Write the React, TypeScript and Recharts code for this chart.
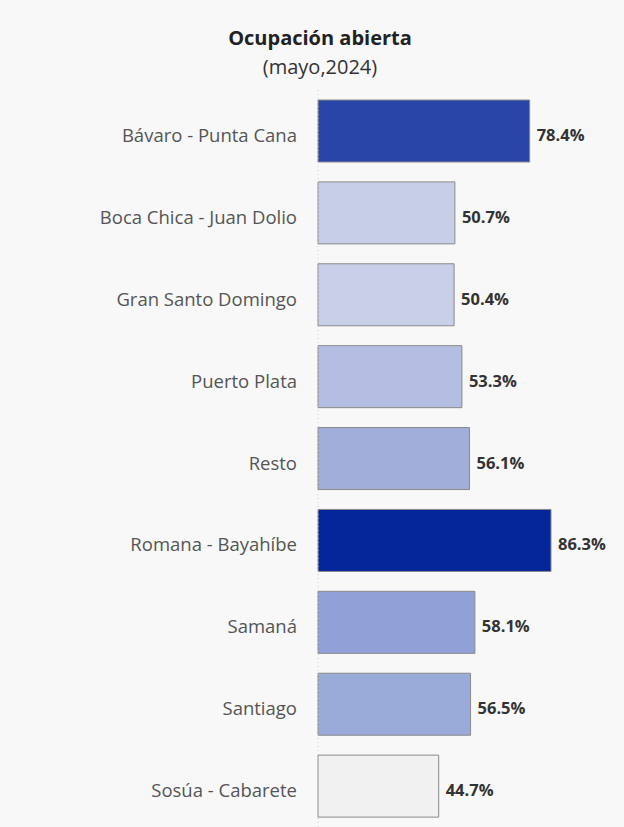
import React from "react";
import { BarChart, Bar, XAxis, YAxis, Cell, LabelList } from "recharts";

const categories = [
  "Bávaro - Punta Cana",
  "Boca Chica - Juan Dolio",
  "Gran Santo Domingo",
  "Puerto Plata",
  "Resto",
  "Romana - Bayahíbe",
  "Samaná",
  "Santiago",
  "Sosúa - Cabarete",
];
const values = [78.4, 50.7, 50.4, 53.3, 56.1, 86.3, 58.1, 56.5, 44.7];
const colors = [
  "#2945a7",
  "#c7cfe8",
  "#c9cfe8",
  "#b3bee2",
  "#a0aed9",
  "#04269a",
  "#8fa1d6",
  "#9aaad9",
  "#f1f1f1",
];
const title = "Ocupación abierta";
const subtitle = "(mayo,2024)";

const data = categories.map((c, i) => ({ name: c, value: values[i] }));

const FONT = "'Open Sans', 'Noto Sans', sans-serif";

const CatTick = (props: any) => {
  const { x, y, payload } = props;
  return (
    <text x={x} y={y} dy={11} textAnchor="end" fill="#555" fontSize={18.5} fontFamily={FONT}>
      {payload.value}
    </text>
  );
};

const ValueLabel = (props: any) => {
  const { x, y, width, height, value } = props;
  return (
    <text
      x={x + width + 7}
      y={y + height / 2}
      dy={10}
      textAnchor="start"
      fill="#333"
      fontSize={16.5}
      fontWeight={700}
      fontFamily={FONT}
    >
      {`${Number(value).toFixed(1)}%`}
    </text>
  );
};

export default function App() {
  return (
    <div
      style={{
        position: "absolute",
        left: 0,
        top: 0,
        width: 624,
        height: 827,
        background: "#f8f8f8",
        overflow: "hidden",
      }}
    >
      <div
        style={{
          position: "absolute",
          left: 0,
          width: 640,
          top: 24,
          lineHeight: "28px",
          textAlign: "center",
          fontFamily: FONT,
          fontWeight: 700,
          fontSize: 20,
          color: "#222",
        }}
      >
        {title}
      </div>
      <div
        style={{
          position: "absolute",
          left: 0,
          width: 640,
          top: 53,
          lineHeight: "28px",
          textAlign: "center",
          fontFamily: FONT,
          fontSize: 20,
          color: "#333",
        }}
      >
        {subtitle}
      </div>
      <BarChart
        width={624}
        height={827}
        data={data}
        layout="vertical"
        margin={{ top: 90, right: 36, bottom: 0, left: 0 }}
        barCategoryGap={10}
        style={{ position: "absolute", left: 0, top: 0 }}
      >
        <XAxis type="number" domain={[0, 100]} hide />
        <YAxis
          type="category"
          dataKey="name"
          width={318}
          tickLine={false}
          axisLine={{ stroke: "#d0d0d0", strokeDasharray: "1 3" }}
          tickMargin={15}
          tick={<CatTick />}
          interval={0}
        />
        <Bar dataKey="value" isAnimationActive={false} stroke="#8a8a8a" strokeWidth={1}>
          {data.map((d, i) => (
            <Cell key={d.name} fill={colors[i]} />
          ))}
          <LabelList dataKey="value" content={<ValueLabel />} />
        </Bar>
      </BarChart>
    </div>
  );
}
